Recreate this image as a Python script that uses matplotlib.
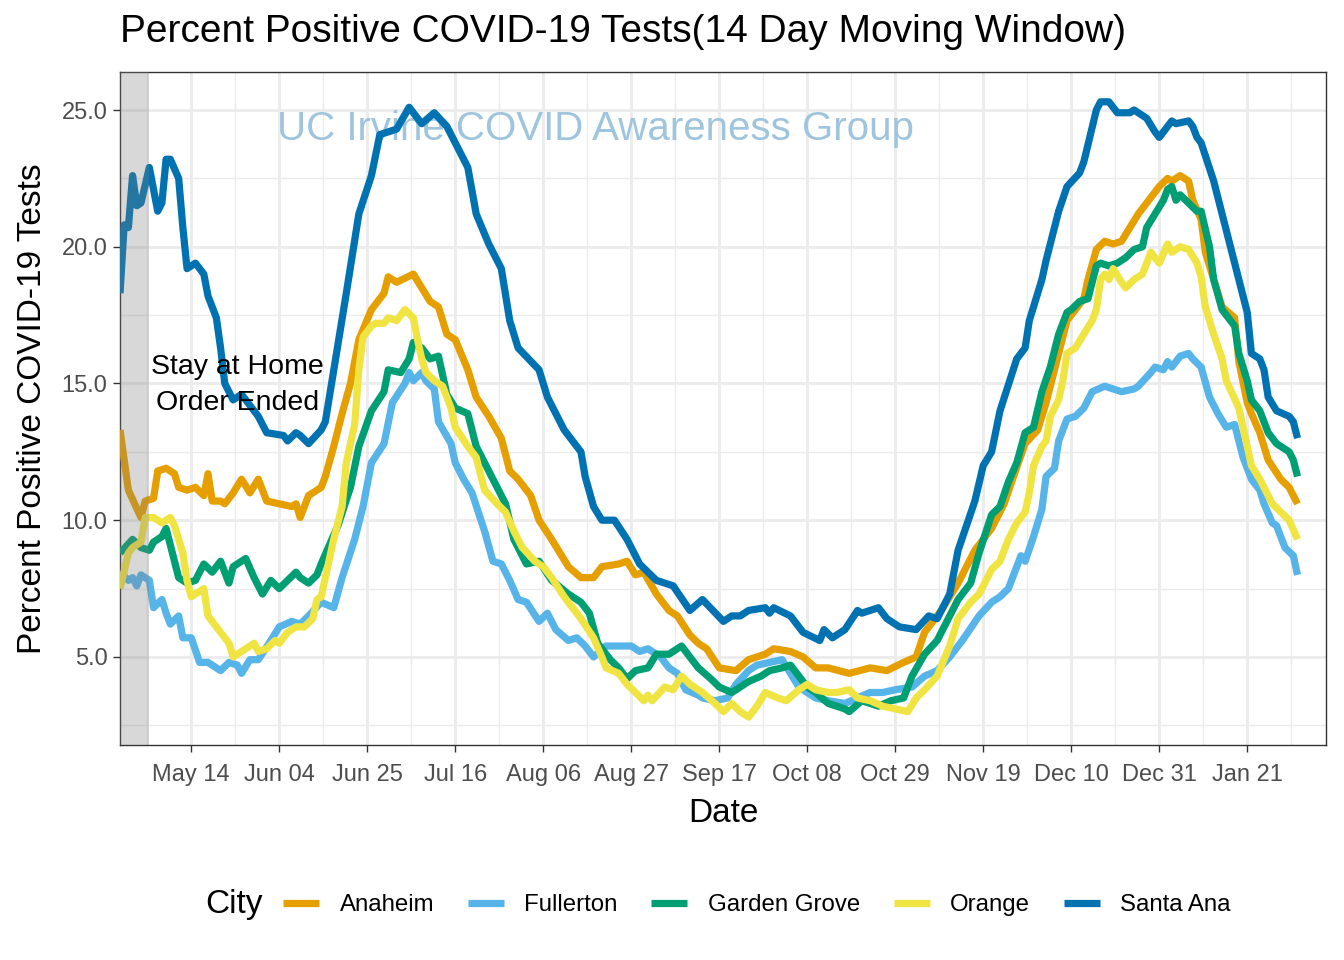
import numpy as np
import pandas as pd
import matplotlib
matplotlib.use("Agg")
import matplotlib.pyplot as plt
import matplotlib.dates as mdates

plt.rcParams["font.family"] = ["Liberation Sans", "DejaVu Sans"]

START = pd.Timestamp("2020-04-27")

cities = ["Anaheim", "Fullerton", "Garden Grove", "Orange", "Santa Ana"]
colors = ["#E69F00", "#56B4E9", "#009E73", "#F0E442", "#0072B2"]

# day offsets from START and percent positive
anaheim_days = [0, 2, 5, 6, 8, 9, 11, 13, 14, 16, 18, 20, 21, 22, 24, 25, 27, 29, 31, 33, 35, 38, 41, 42, 43, 45, 48, 49,
                51, 53, 55, 57, 60, 63, 64, 66, 70, 72, 74, 76, 78, 80, 83, 85, 88, 91, 93, 95, 98, 100, 103, 107, 110,
                113, 115, 119, 121, 123, 125, 128, 131, 133, 136, 138, 140, 143, 147, 150, 154, 156, 160, 163, 166, 169,
                174, 179, 183, 187, 190, 192, 196, 200, 204, 208, 211, 213, 216, 219, 221, 224, 226, 228, 230, 231, 233,
                235, 237, 239, 241, 243, 245, 247, 248, 250, 251, 253, 255, 256, 258, 259, 261, 263, 266, 267, 269, 270,
                272, 274, 277, 279, 281]
anaheim_vals = [13.3, 11.1, 10.1, 10.7, 10.8, 11.8, 11.9, 11.7, 11.2, 11.1, 11.2, 10.9, 11.7, 10.7, 10.7, 10.6, 11.0, 11.5,
                11.0, 11.5, 10.7, 10.6, 10.5, 10.6, 10.1, 10.9, 11.2, 11.6, 12.7, 13.9, 15.0, 16.6, 17.7, 18.3, 18.9,
                18.7, 19.0, 18.5, 18.0, 17.8, 16.8, 16.6, 15.5, 14.5, 13.8, 13.0, 11.8, 11.5, 10.9, 10.0, 9.3, 8.3, 7.9,
                7.9, 8.3, 8.4, 8.5, 8.0, 8.1, 7.3, 6.7, 6.5, 5.8, 5.5, 5.3, 4.6, 4.5, 4.9, 5.1, 5.3, 5.2, 5.0, 4.6, 4.6,
                4.4, 4.6, 4.5, 4.8, 5.0, 5.9, 6.7, 7.7, 8.9, 9.7, 10.6, 11.5, 12.8, 13.3, 14.3, 16.1, 17.3, 17.7, 18.1,
                18.8, 19.9, 20.2, 20.1, 20.2, 20.7, 21.2, 21.6, 22.0, 22.2, 22.5, 22.4, 22.6, 22.4, 21.7, 21.0, 19.8,
                18.8, 17.8, 17.4, 15.8, 14.3, 13.9, 13.2, 12.2, 11.5, 11.2, 10.6]

fullerton_days = [0, 2, 3, 4, 5, 7, 8, 10, 11, 12, 14, 15, 17, 19, 21, 24, 26, 28, 29, 31, 33, 36, 38, 41, 43, 45, 48, 51,
                  53, 56, 58, 60, 63, 65, 68, 69, 70, 72, 73, 75, 76, 79, 80, 82, 84, 87, 89, 91, 93, 95, 97, 100, 102,
                  104, 107, 109, 111, 113, 116, 119, 122, 124, 126, 129, 131, 133, 135, 138, 139, 142, 145, 147, 150, 152,
                  155, 158, 160, 162, 164, 166, 169, 173, 176, 179, 182, 185, 189, 192, 195, 198, 201, 205, 208, 210, 212,
                  213, 215, 216, 218, 220, 221, 223, 224, 226, 228, 230, 232, 235, 237, 239, 242, 243, 246, 247, 249, 250,
                  251, 253, 255, 256, 258, 260, 262, 264, 266, 268, 270, 272, 273, 275, 276, 278, 280, 281]
fullerton_vals = [8.1, 7.8, 7.9, 7.6, 8.0, 7.8, 6.8, 7.1, 6.6, 6.2, 6.5, 5.7, 5.7, 4.8, 4.8, 4.5, 4.8, 4.7, 4.4, 4.9, 4.9,
                  5.6, 6.1, 6.3, 6.2, 6.5, 7.0, 6.8, 7.9, 9.3, 10.5, 12.1, 12.8, 14.3, 15.0, 15.4, 15.1, 15.4, 15.1,
                  14.8, 13.6, 12.8, 12.1, 11.5, 11.0, 9.6, 8.5, 8.4, 7.8, 7.1, 7.0, 6.3, 6.6, 6.0, 5.6, 5.7, 5.4, 5.0,
                  5.4, 5.4, 5.4, 5.2, 5.3, 5.0, 4.6, 4.4, 3.8, 3.6, 3.5, 3.4, 3.5, 4.0, 4.5, 4.7, 4.8, 4.9, 4.4, 3.9,
                  3.7, 3.5, 3.4, 3.3, 3.5, 3.7, 3.7, 3.8, 3.9, 4.3, 4.5, 5.0, 5.6, 6.5, 7.0, 7.2, 7.5, 7.9, 8.7, 8.5,
                  9.4, 10.4, 11.6, 11.9, 12.9, 13.7, 13.8, 14.1, 14.7, 14.9, 14.8, 14.7, 14.8, 14.9, 15.4, 15.6, 15.5,
                  15.8, 15.6, 16.0, 16.1, 15.9, 15.6, 14.5, 13.9, 13.4, 13.5, 12.3, 11.5, 11.1, 10.6, 9.9, 9.8, 9.0,
                  8.7, 8.0]

garden_days = [0, 3, 5, 7, 8, 10, 11, 13, 14, 16, 18, 20, 22, 24, 26, 27, 30, 32, 34, 36, 38, 40, 42, 43, 45, 47, 48, 52,
               55, 57, 60, 63, 64, 67, 69, 70, 72, 74, 76, 78, 80, 83, 85, 88, 91, 92, 94, 97, 100, 103, 107, 110, 112,
               114, 117, 119, 121, 123, 126, 128, 131, 134, 136, 138, 141, 143, 146, 148, 150, 153, 155, 158, 160, 162,
               164, 166, 169, 173, 174, 177, 181, 184, 187, 189, 192, 195, 197, 200, 203, 205, 208, 210, 212, 214, 216,
               218, 220, 222, 224, 226, 227, 229, 231, 233, 234, 236, 238, 240, 242, 244, 245, 247, 249, 250, 251, 252,
               253, 255, 257, 258, 260, 261, 263, 266, 267, 269, 270, 272, 274, 276, 279, 280, 281]
garden_vals = [8.8, 9.3, 9.0, 8.9, 9.2, 9.4, 9.7, 8.5, 7.9, 7.7, 7.8, 8.4, 8.1, 8.5, 7.7, 8.3, 8.6, 7.9, 7.3, 7.8, 7.5,
               7.8, 8.1, 7.9, 7.7, 8.0, 8.4, 9.8, 11.2, 12.7, 14.0, 14.7, 15.5, 15.4, 15.9, 16.5, 16.3, 15.9, 16.0,
               14.6, 14.1, 13.9, 12.7, 11.8, 10.9, 10.6, 9.3, 8.4, 8.5, 7.8, 7.3, 7.0, 6.6, 5.5, 4.9, 4.6, 4.2, 4.5,
               4.6, 5.1, 5.1, 5.4, 5.0, 4.6, 4.2, 3.9, 3.7, 3.9, 4.1, 4.3, 4.5, 4.6, 4.7, 4.3, 3.9, 3.7, 3.3, 3.1, 3.0,
               3.4, 3.2, 3.4, 3.5, 4.3, 5.1, 5.6, 6.2, 7.1, 7.7, 8.8, 10.2, 10.5, 11.4, 12.1, 13.2, 13.4, 14.7, 15.6,
               16.8, 17.6, 17.7, 18.0, 18.1, 19.3, 19.4, 19.3, 19.4, 19.6, 19.9, 20.0, 20.7, 21.2, 21.7, 22.1, 22.2,
               21.7, 21.9, 21.6, 21.3, 21.3, 20.0, 18.8, 17.7, 17.1, 16.1, 15.1, 14.4, 14.0, 13.2, 12.8, 12.5, 12.2,
               11.6]

orange_days = [0, 2, 3, 5, 6, 8, 10, 12, 13, 15, 16, 17, 19, 20, 21, 24, 26, 27, 29, 32, 33, 35, 37, 38, 40, 42, 44, 46,
               47, 48, 51, 53, 54, 56, 57, 58, 60, 61, 63, 64, 66, 68, 70, 71, 72, 73, 75, 77, 79, 80, 83, 85, 87, 90,
               92, 94, 96, 99, 101, 103, 106, 108, 110, 113, 115, 116, 119, 121, 123, 125, 126, 127, 130, 132, 134, 136,
               139, 142, 144, 146, 148, 150, 152, 154, 157, 159, 162, 164, 166, 169, 171, 174, 176, 179, 182, 185, 188,
               190, 192, 195, 198, 200, 203, 205, 208, 210, 212, 214, 216, 217, 218, 220, 221, 222, 224, 225, 226, 228,
               230, 232, 233, 234, 235, 236, 237, 239, 240, 242, 244, 245, 246, 248, 250, 251, 253, 255, 257, 258, 259,
               261, 263, 264, 267, 268, 270, 272, 274, 275, 277, 279, 281]
orange_vals = [7.5, 8.8, 9.0, 9.2, 10.1, 10.1, 9.9, 10.1, 9.8, 8.8, 7.8, 7.2, 7.4, 7.5, 6.5, 5.9, 5.5, 5.0, 5.2, 5.5, 5.2,
               5.3, 5.6, 5.5, 5.9, 6.1, 6.1, 6.4, 7.1, 7.2, 9.3, 10.5, 12.1, 13.5, 15.5, 16.7, 17.1, 17.2, 17.2, 17.4,
               17.3, 17.7, 17.4, 16.6, 15.9, 15.4, 15.1, 14.9, 14.1, 13.4, 12.7, 12.3, 11.1, 10.6, 10.3, 9.6, 9.0, 8.5,
               8.3, 7.9, 7.2, 6.8, 6.4, 5.7, 5.0, 4.6, 4.4, 4.0, 3.7, 3.4, 3.6, 3.4, 3.9, 3.8, 4.3, 4.0, 3.7, 3.3, 3.0,
               3.3, 3.0, 2.8, 3.2, 3.7, 3.5, 3.4, 3.8, 4.0, 3.8, 3.7, 3.7, 3.8, 3.5, 3.4, 3.2, 3.1, 3.0, 3.5, 3.8, 4.3,
               5.4, 6.4, 7.0, 7.3, 8.2, 8.5, 9.3, 9.9, 10.3, 11.0, 12.0, 12.7, 12.9, 13.8, 14.4, 15.1, 16.1, 16.3, 16.8,
               17.3, 17.7, 18.8, 19.0, 18.8, 19.2, 18.7, 18.5, 18.8, 19.0, 19.4, 19.8, 19.4, 20.1, 19.8, 20.0, 19.9,
               19.4, 18.9, 17.8, 16.8, 15.9, 15.1, 14.1, 13.4, 12.0, 11.5, 10.9, 10.6, 10.3, 10.0, 9.3]

santa_ana_days = [0, 1, 2, 3, 4, 5, 7, 9, 10, 11, 12, 14, 15, 16, 18, 20, 21, 23, 24, 25, 27, 29, 31, 33, 35, 39, 40, 42,
                  43, 45, 48, 49, 54, 57, 60, 62, 66, 69, 72, 75, 78, 81, 83, 85, 88, 91, 93, 95, 100, 102, 106, 110,
                  111, 113, 115, 118, 121, 124, 128, 132, 136, 139, 144, 146, 148, 150, 154, 155, 156, 160, 163, 167,
                  168, 170, 173, 176, 177, 181, 183, 186, 190, 193, 195, 198, 200, 204, 206, 208, 210, 214, 216, 217,
                  220, 221, 224, 226, 229, 230, 233, 234, 236, 238, 241, 242, 245, 247, 248, 251, 252, 255, 256, 257,
                  258, 261, 264, 265, 267, 269, 270, 272, 273, 274, 276, 279, 280, 281]
santa_ana_vals = [18.3, 20.8, 20.7, 22.6, 21.5, 21.6, 22.9, 21.3, 21.6, 23.2, 23.2, 22.5, 20.7, 19.2, 19.4, 19.0, 18.2,
                  17.4, 16.3, 15.0, 14.4, 14.6, 14.2, 13.8, 13.2, 13.1, 12.9, 13.2, 13.1, 12.8, 13.3, 13.6, 18.3, 21.2,
                  22.6, 24.1, 24.3, 25.1, 24.5, 24.9, 24.4, 23.5, 22.9, 21.2, 20.1, 19.2, 17.3, 16.3, 15.5, 14.5, 13.3,
                  12.5, 11.6, 10.5, 10.0, 10.0, 9.3, 8.4, 7.8, 7.6, 6.7, 7.1, 6.3, 6.5, 6.5, 6.7, 6.8, 6.6, 6.8, 6.5,
                  5.9, 5.6, 6.0, 5.7, 6.0, 6.7, 6.6, 6.8, 6.4, 6.1, 6.0, 6.5, 6.4, 7.3, 8.9, 10.7, 12.0, 12.5, 14.0,
                  15.9, 16.3, 17.3, 18.8, 19.5, 21.3, 22.2, 22.7, 23.1, 25.0, 25.3, 25.3, 24.9, 24.9, 25.0, 24.7, 24.2,
                  24.0, 24.6, 24.5, 24.6, 24.4, 24.0, 23.8, 22.4, 20.6, 20.0, 18.8, 17.6, 16.1, 15.9, 15.5, 14.5, 14.0,
                  13.8, 13.6, 13.0]

series = [(anaheim_days, anaheim_vals), (fullerton_days, fullerton_vals), (garden_days, garden_vals),
          (orange_days, orange_vals), (santa_ana_days, santa_ana_vals)]

tick_dates = pd.date_range("2020-05-14", periods=13, freq="21D")
stay_home_end = pd.Timestamp("2020-05-04")


def to_dates(days):
    return START + pd.to_timedelta(np.asarray(days, dtype=float), unit="D")


fig = plt.figure(figsize=(13.44, 9.6), dpi=100)
ax = fig.add_axes([120 / 1344, 1 - 745 / 960, (1326 - 120) / 1344, (745 - 72) / 960])

for name, col, (d, v) in zip(cities, colors, series):
    ax.plot(to_dates(d), v, color=col, lw=5.2, label=name, solid_capstyle="butt", solid_joinstyle="round", zorder=3)

# stay-at-home shading sits on top of the lines
ax.axvspan(START - pd.Timedelta(days=2), stay_home_end, color="#808080", alpha=0.3, lw=0, zorder=4)

ax.text(pd.Timestamp("2020-05-25"), 14.95, "Stay at Home\nOrder Ended", fontsize=20.5, ha="center", va="center",
        linespacing=1.5, zorder=5)
ax.text(pd.Timestamp("2020-08-18 12:00"), 24.3, "UC Irvine COVID Awareness Group", fontsize=29, color="#9fc4de",
        ha="center", va="center", zorder=2)

ax.set_xlim(START, START + pd.Timedelta(days=287.8))
ax.set_ylim(1.78, 26.39)

ax.set_xticks(tick_dates)
ax.xaxis.set_major_formatter(mdates.DateFormatter("%b %d"))
minor = [t - pd.Timedelta(hours=252) for t in tick_dates] + [tick_dates[-1] + pd.Timedelta(hours=252)]
ax.set_xticks(minor, minor=True)
ax.set_yticks([5, 10, 15, 20, 25])
ax.set_yticklabels([f"{v:.1f}" for v in [5, 10, 15, 20, 25]])
ax.set_yticks([2.5, 7.5, 12.5, 17.5, 22.5], minor=True)

ax.grid(which="major", color="#ebebeb", lw=2.0, zorder=0)
ax.grid(which="minor", color="#ebebeb", lw=1.0, zorder=0)
ax.set_axisbelow(True)
ax.tick_params(which="major", length=5, width=1, color="#333333", labelsize=17, labelcolor="#4d4d4d")
ax.tick_params(axis="x", which="major", pad=9)
ax.tick_params(axis="y", which="major", pad=4)
ax.tick_params(which="minor", length=0)
for s in ax.spines.values():
    s.set_color("#333333")
    s.set_linewidth(1.0)

ax.set_xlabel("Date", fontsize=24, labelpad=8)
ax.set_ylabel("Percent Positive COVID-19 Tests", fontsize=24, labelpad=10)

fig.text(120 / 1344, 1 - 32 / 960, "Percent Positive COVID-19 Tests(14 Day Moving Window)", fontsize=28,
         ha="left", va="center")

fig.text(205 / 1344, 1 - 905 / 960, "City", fontsize=24, ha="left", va="center")
handles, labels = ax.get_legend_handles_labels()
fig.legend(handles, labels, loc="center left", bbox_to_anchor=(283 / 1344, 1 - 905 / 960), ncol=5, frameon=False,
           fontsize=17.3, handlelength=1.5, handletextpad=0.85, columnspacing=1.4, borderpad=0, borderaxespad=0)

fig.savefig("out.png", dpi=100)
